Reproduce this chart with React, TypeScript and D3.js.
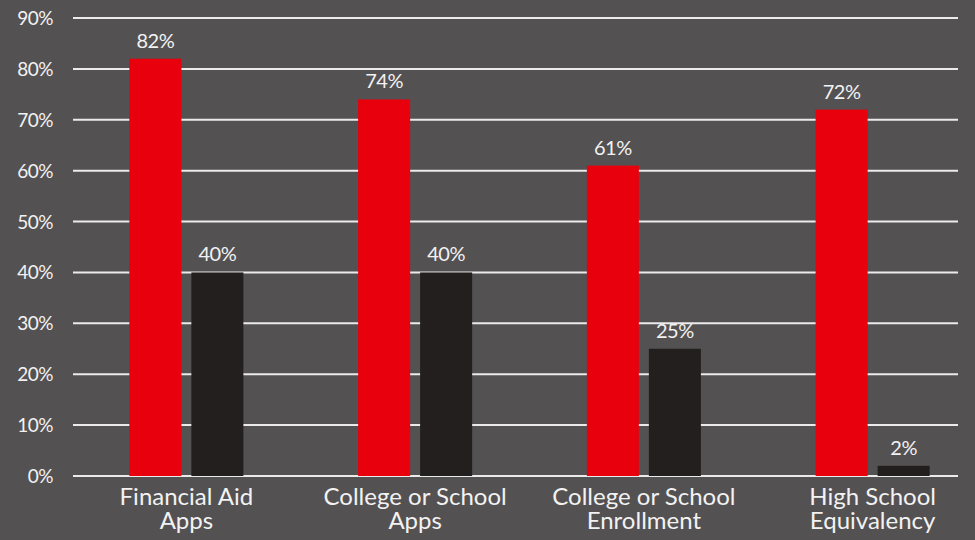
import React from "react";
import * as d3 from "d3";

const categories = [["Financial Aid", "Apps"], ["College or School", "Apps"], ["College or School", "Enrollment"], ["High School", "Equivalency"]];
const redValues = [82, 74, 61, 72];
const blackValues = [40, 40, 25, 2];
const yTicks = [0, 10, 20, 30, 40, 50, 60, 70, 80, 90];

const W = 975, H = 540;

export default function App() {
  const y = d3.scaleLinear().domain([0, 90]).range([476, 18]);
  const x = d3.scaleBand<number>().domain(d3.range(categories.length)).range([72, 987]).paddingInner(0).paddingOuter(0);
  const inner = d3.scaleBand<string>().domain(["red", "black"]).range([0, x.bandwidth()]).paddingInner(0.161).paddingOuter(0.925);
  const font = "Lato, 'Noto Sans', sans-serif";
  return (
    <svg width={W} height={H} style={{ position: "absolute", left: 0, top: 0 }}>
      <rect width={W} height={H} fill="#545152" />
      {yTicks.map(t => (
        <g key={t}>
          <line x1={73} x2={958} y1={y(t)} y2={y(t)} stroke="#ebebeb" strokeWidth={2} />
          <text x={53} y={y(t) + 7} textAnchor="end" fill="#f2f2f2" fontSize={19} fontFamily={font} letterSpacing={-0.5}>{t}%</text>
        </g>
      ))}
      {categories.map((c, i) => {
        const x0 = x(i)!;
        const series = [
          { key: "red", v: redValues[i], color: "#e8000d" },
          { key: "black", v: blackValues[i], color: "#221f1e" },
        ];
        const cx = x0 + x.bandwidth() / 2;
        return (
          <g key={i}>
            {series.map(s => (
              <g key={s.key}>
                <rect x={x0 + inner(s.key)!} y={y(s.v)} width={inner.bandwidth()} height={y(0) - y(s.v)} fill={s.color} />
                <text x={x0 + inner(s.key)! + inner.bandwidth() / 2} y={y(s.v) - 11} textAnchor="middle" fill="#f2f2f2" fontSize={20} fontFamily={font} letterSpacing={-0.5}>{s.v}%</text>
              </g>
            ))}
            <text x={cx} y={506} textAnchor="middle" fill="#f2f2f2" fontSize={24} fontFamily={font}>
              <tspan x={cx} y={505}>{c[0]}</tspan>
              <tspan x={cx} y={529}>{c[1]}</tspan>
            </text>
          </g>
        );
      })}
    </svg>
  );
}
